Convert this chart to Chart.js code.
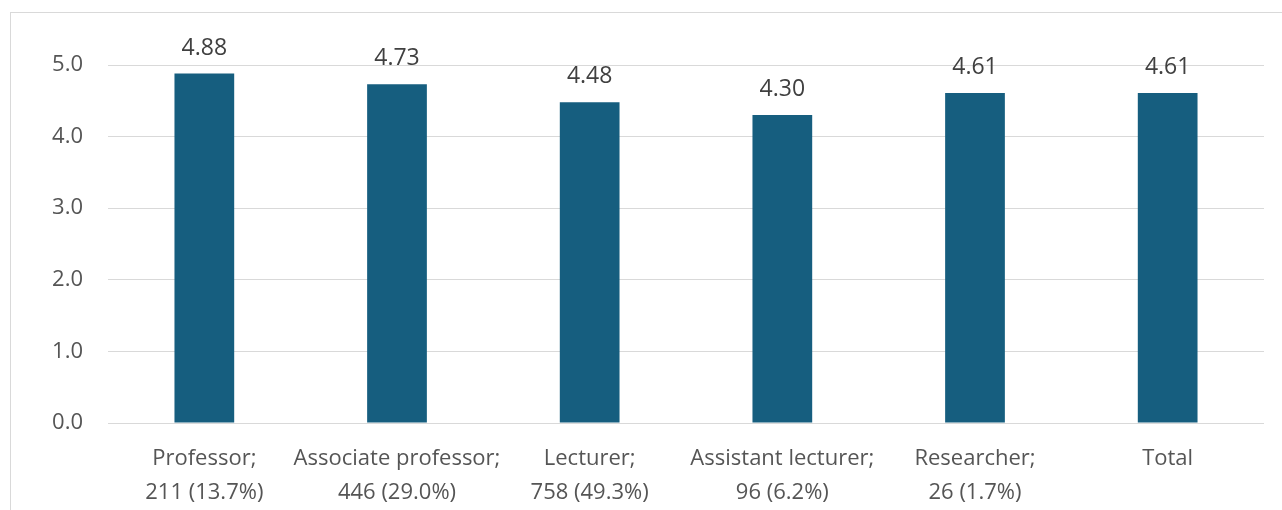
<!DOCTYPE html>
<html>
<head>
<meta charset="utf-8">
<script src="https://cdn.jsdelivr.net/npm/chart.js@4/dist/chart.umd.min.js"></script>
<style>
  html, body { margin: 0; padding: 0; background: #fff; overflow: hidden; }
  #wrap { position: relative; width: 1282px; height: 510px; }
  #frame { position: absolute; left: 10px; top: 12px; width: 1400px; height: 600px;
           border: 1px solid #d9d9d9; box-sizing: border-box; }
  canvas { position: absolute; left: 0; top: 0; }
</style>
</head>
<body>
<div id="wrap">
  <div id="frame"></div>
  <canvas id="chart" width="1282" height="510"></canvas>
</div>
<script>
// Mean score by academic position (count and share in the label)
const categories = [
    ['Professor;', '211 (13.7%)'],
    ['Associate professor;', '446 (29.0%)'],
    ['Lecturer;', '758 (49.3%)'],
    ['Assistant lecturer;', '96 (6.2%)'],
    ['Researcher;', '26 (1.7%)'],
    ['Total']
];
const scores = [4.88, 4.73, 4.48, 4.30, 4.61, 4.61];
const yTicks = [0, 1, 2, 3, 4, 5];

const FONT = "'Open Sans', sans-serif";

// value labels above each bar
const barLabels = {
    id: 'barLabels',
    afterDatasetsDraw(chart) {
        const ctx = chart.ctx;
        const meta = chart.getDatasetMeta(0);
        ctx.save();
        ctx.font = '23px ' + FONT;
        ctx.fillStyle = '#404040';
        ctx.textAlign = 'center';
        ctx.textBaseline = 'alphabetic';
        meta.data.forEach((bar, i) => {
            ctx.fillText(scores[i].toFixed(2), bar.x, bar.y - 19);
        });
        ctx.restore();
    }
};

new Chart(document.getElementById('chart'), {
    type: 'bar',
    data: {
        labels: categories,
        datasets: [{
            data: scores,
            backgroundColor: '#165e7f',
            barPercentage: 0.62,
            categoryPercentage: 0.5
        }]
    },
    options: {
        responsive: false,
        animation: false,
        layout: { padding: { top: 65, right: 18, left: 0, bottom: 0 } },
        plugins: {
            legend: { display: false },
            tooltip: { enabled: false }
        },
        scales: {
            x: {
                grid: { display: false },
                border: { display: false },
                ticks: {
                    color: '#555555',
                    font: { family: FONT, size: 22, lineHeight: 1.55 },
                    padding: 11,
                    maxRotation: 0,
                    autoSkip: false
                },
                afterFit: (s) => { s.height = 510 - 65 - 358; }
            },
            y: {
                min: 0,
                max: 5,
                afterBuildTicks: (s) => { s.ticks = yTicks.map(v => ({ value: v })); },
                grid: { color: '#d9d9d9', lineWidth: 1, drawTicks: false },
                border: { display: false },
                ticks: {
                    color: '#555555',
                    font: { family: FONT, size: 22 },
                    padding: 25,
                    callback: (v) => Number(v).toFixed(1)
                },
                afterFit: (s) => { s.width = 108; }
            }
        }
    },
    plugins: [barLabels]
});
</script>
</body>
</html>
